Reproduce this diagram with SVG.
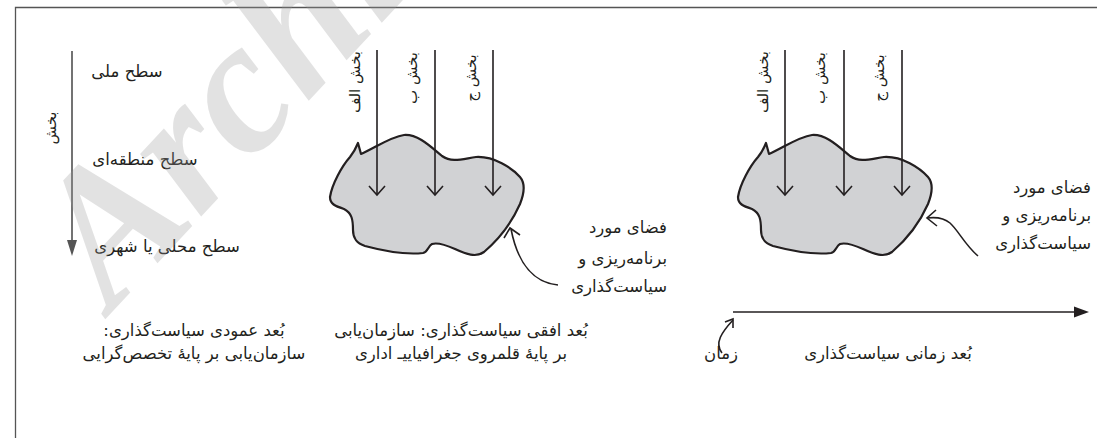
<svg xmlns="http://www.w3.org/2000/svg" width="1097" height="438" viewBox="0 0 1097 438">
<style>
text{font-family:"DejaVu Sans","Noto Sans",sans-serif;fill:#231f20;font-size:16.5px}
.v{font-size:15px}
.ln{stroke:#231f20;stroke-width:1.6;fill:none}
.ah{stroke:#231f20;stroke-width:1.6;fill:none;stroke-linejoin:miter}
.blob{fill:#d1d2d4;stroke:#231f20;stroke-width:2.2;stroke-linejoin:round}
</style>
<defs>
<path id="blobShape" d="M358,143 L361,154 C375,148 390,137 404,135 C418,134 430,146 442,156 C452,163 462,159 476,157 C494,156 512,168 520,177 C526,184 524,194 520,204 C512,222 498,240 484,252 C476,258 466,254 455,249 C446,245 438,242 432,244 C428,246 428,252 423,253 C405,255 380,250 365,246 C356,243 353,238 353,230 C353,220 352,213 344,209 C335,206 330,204 330,197 C332,184 342,166 350,157 C354,152 356,148 358,143 Z"/>
</defs>
<rect width="1097" height="438" fill="#fff"/>
<path d="M15.5,438 V7.5 H1097" stroke="#555" stroke-width="1.3" fill="none"/>

<g id="vertical-panel">
<g id="levels">
<text x="127" y="77" text-anchor="middle">سطح ملی</text>
<text x="145" y="165" text-anchor="middle">سطح منطقه‌ای</text>
<text x="167" y="252" text-anchor="middle">سطح محلی یا شهری</text>
</g>
<text class="v" transform="translate(51,128) rotate(-90)" x="0" y="5" text-anchor="middle">بخش</text>
<g id="vertical-caption">
<text x="194" y="336" text-anchor="middle">بُعد عمودی سیاست‌گذاری:&#x200F;</text>
<text x="194" y="359" text-anchor="middle">سازمان‌یابی بر پایهٔ تخصص‌گرایی</text>
</g>
</g>

<g id="horizontal-panel">
<use id="blob1" href="#blobShape" class="blob"/>
<text class="v" transform="translate(355,82) rotate(-90)" x="0" y="5" text-anchor="middle">بخش الف</text>
<text class="v" transform="translate(412,78) rotate(-90)" x="0" y="5" text-anchor="middle">بخش ب</text>
<text class="v" transform="translate(471,78) rotate(-90)" x="0" y="5" text-anchor="middle">بخش ج</text>
<g id="space-label-1">
<text x="667" y="233" text-anchor="end">فضای مورد</text>
<text x="667" y="264" text-anchor="end">برنامه‌ریزی و</text>
<text x="667" y="292" text-anchor="end">سیاست‌گذاری</text>
</g>
<g id="horizontal-caption">
<text x="461" y="336" text-anchor="middle">بُعد افقی سیاست‌گذاری: سازمان‌یابی</text>
<text x="461" y="359" text-anchor="middle">بر پایهٔ قلمروی جغرافیاییـ اداری</text>
</g>
</g>

<g id="temporal-panel">
<use id="blob2" href="#blobShape" class="blob" transform="translate(408,0)"/>
<text class="v" transform="translate(763,82) rotate(-90)" x="0" y="5" text-anchor="middle">بخش الف</text>
<text class="v" transform="translate(820,78) rotate(-90)" x="0" y="5" text-anchor="middle">بخش ب</text>
<text class="v" transform="translate(879,78) rotate(-90)" x="0" y="5" text-anchor="middle">بخش ج</text>
<g id="space-label-2">
<text x="1091" y="193" text-anchor="end">فضای مورد</text>
<text x="1091" y="221" text-anchor="end">برنامه‌ریزی و</text>
<text x="1091" y="249" text-anchor="end">سیاست‌گذاری</text>
</g>
<text x="721" y="359" text-anchor="middle">زمان</text>
<text x="888" y="359" text-anchor="middle">بُعد زمانی سیاست‌گذاری</text>
</g>

<g id="connectors">
<line x1="72" y1="51" x2="72" y2="242" stroke="#444" stroke-width="1.5"/>
<polygon points="67,240 77,240 72,256" fill="#555"/>
<g id="arrows-panel2">
<line class="ln" x1="377" y1="50" x2="377" y2="195"/>
<polyline class="ah" points="369,186 377,195 385,186"/>
<line class="ln" x1="435" y1="50" x2="435" y2="195"/>
<polyline class="ah" points="427,186 435,195 443,186"/>
<line class="ln" x1="493" y1="50" x2="493" y2="195"/>
<polyline class="ah" points="485,186 493,195 501,186"/>
<path class="ln" d="M558,285 C535,283 518,265 511,229"/>
<polyline class="ah" points="504,238 510,228 520,235"/>
</g>
<g id="arrows-panel3">
<line class="ln" x1="785" y1="50" x2="785" y2="195"/>
<polyline class="ah" points="777,186 785,195 793,186"/>
<line class="ln" x1="844" y1="50" x2="844" y2="195"/>
<polyline class="ah" points="836,186 844,195 852,186"/>
<line class="ln" x1="902" y1="50" x2="902" y2="195"/>
<polyline class="ah" points="894,186 902,195 910,186"/>
<path class="ln" d="M978,256 C965,245 958,230 950,223 C943,217 935,217 927,218"/>
<polyline class="ah" points="936,210 927,218 937,226"/>
</g>
<g id="time-axis">
<line x1="733" y1="312" x2="1076" y2="312" stroke="#231f20" stroke-width="1.6"/>
<polygon points="1074,306.5 1089,312 1074,317.5" fill="#231f20"/>
<path class="ln" d="M722,353 C714,343 722,332 733,320"/>
<polyline class="ah" points="725,322 733,319 733,328"/>
</g>
</g>

<text transform="translate(112,312) rotate(-47)" style="font-family:'Liberation Serif',serif;font-weight:bold;font-style:italic;font-size:190px;fill:#9a9a9a;opacity:0.28">Archive</text>
</svg>
